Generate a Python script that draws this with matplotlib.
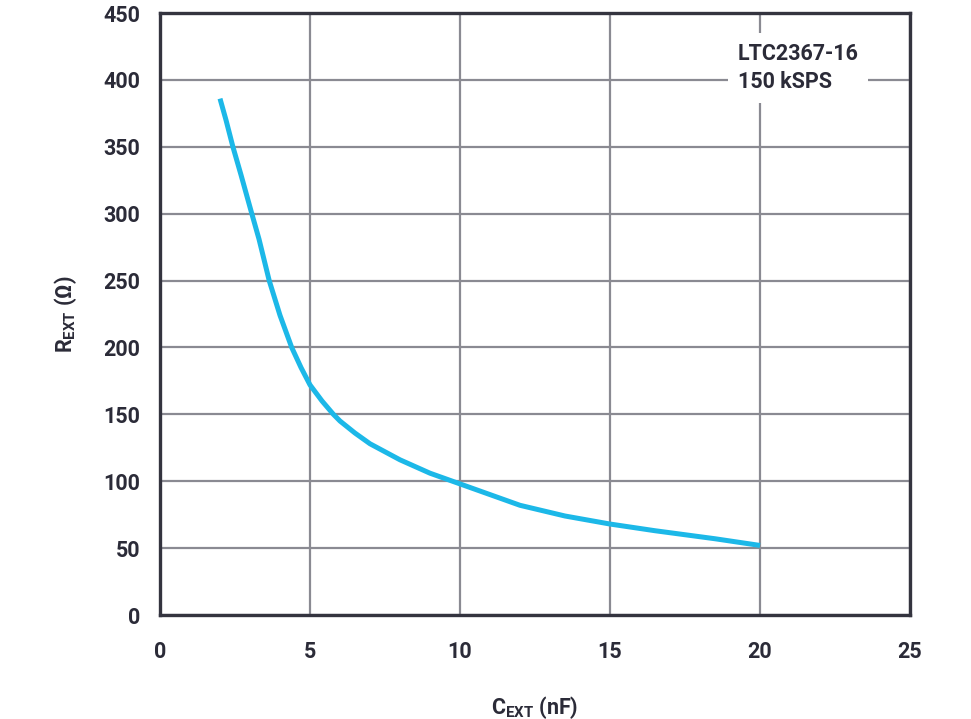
import matplotlib.pyplot as plt

# values
c_ext = [2.0, 2.2, 2.43, 2.7, 3.06, 3.3, 3.64, 3.82, 4.0, 4.39, 4.7, 5.0, 5.4, 5.78, 6.0, 6.5,
         7.0, 8.0, 9.0, 10.0, 11.0, 12.0, 13.5, 15.0, 16.5, 17.5, 18.5, 20.0]
r_ext = [386, 370, 350, 329, 300, 281, 250, 237, 224, 200, 185, 172, 160, 150, 145, 136,
         128, 116, 106, 98, 90, 82, 74, 68, 63, 60, 57, 52]

x_ticks = [0, 5, 10, 15, 20, 25]
y_ticks = [0, 50, 100, 150, 200, 250, 300, 350, 400, 450]
note = "LTC2367-16\n150 kSPS"

text_color = "#2b2b38"
grid_color = "#8a8a92"
line_color = "#1cb8e8"

plt.rcParams["font.family"] = ["Roboto", "DejaVu Sans"]
plt.rcParams["mathtext.fontset"] = "custom"
plt.rcParams["mathtext.rm"] = "Roboto:bold"
plt.rcParams["mathtext.bf"] = "Roboto:bold"
plt.rcParams["mathtext.it"] = "Roboto:bold"

fig = plt.figure(figsize=(9.71, 7.19), dpi=100)
ax = fig.add_axes([160 / 971, 1 - 615 / 719, 750 / 971, 602 / 719])

ax.plot(c_ext, r_ext, color=line_color, lw=3.6, solid_capstyle="butt",
        solid_joinstyle="round", zorder=3)

ax.set_xlim(0, 25)
ax.set_ylim(0, 450)
ax.set_xticks(x_ticks)
ax.set_yticks(y_ticks)
ax.grid(True, color=grid_color, lw=1.6, zorder=1)
ax.set_axisbelow(True)
ax.tick_params(length=0, labelsize=15.5, labelcolor=text_color)
ax.tick_params(axis="x", pad=19)
ax.tick_params(axis="y", pad=14)
for lab in ax.get_xticklabels() + ax.get_yticklabels():
    lab.set_fontweight("bold")
for s in ax.spines.values():
    s.set_color("#34343f")
    s.set_linewidth(2.4)

ax.set_xlabel(r"$\mathrm{C_{EXT}}$" + " (nF)", fontsize=15.5, fontweight="bold",
              color=text_color, labelpad=22)
ax.set_ylabel(r"$\mathrm{R_{EXT}}$" + " (Ω)", fontsize=15.5, fontweight="bold",
              color=text_color, labelpad=18)

ax.text(19.25, 409, note, fontsize=15.5, fontweight="bold", color=text_color,
        ha="left", va="center", linespacing=1.35, zorder=4,
        bbox=dict(facecolor="white", edgecolor="none", pad=7))

fig.savefig("out.png", dpi=100)
